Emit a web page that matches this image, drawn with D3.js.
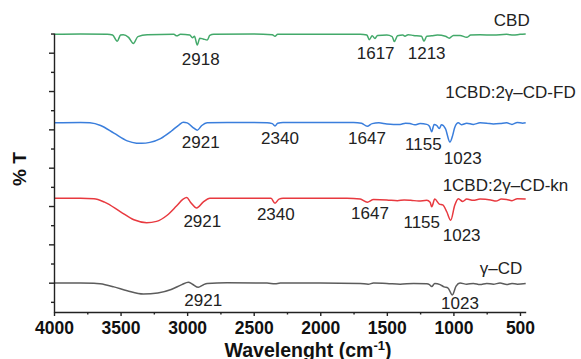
<!DOCTYPE html>
<html>
<head>
<meta charset="utf-8">
<script src="https://cdn.jsdelivr.net/npm/d3@7"></script>
<style>
  html, body { margin: 0; padding: 0; background: #fff; }
  svg { display: block; font-family: "Liberation Sans", Arial, sans-serif; }
</style>
</head>
<body>
<svg id="chart" width="581" height="359"></svg>
<script>
// ---- Data (wavenumber in cm-1, %T offset-stacked) ----
const cbdWave = [4000,3800,3600,3560,3525,3500,3480,3440,3404,3370,3300,3100,3078,3050,2980,2960,2945,2924,2905,2880,2849,2830,2800,2500,2360,2340,2320,2000,1700,1650,1632,1610,1589,1570,1500,1460,1444,1420,1380,1364,1340,1300,1240,1221,1200,1163,1120,1060,1031,1000,950,900,870,800,700,600,550,500,457];
const cbdT    = [74.8,74.9,74.8,74.6,73.0,74.6,74.7,74.0,72.4,74.2,74.7,74.8,74.4,74.8,74.6,73.9,74.3,72.0,73.8,73.6,73.3,74.5,74.8,74.9,74.7,74.3,74.8,74.8,74.8,74.6,73.4,74.4,73.7,74.5,74.6,74.2,72.9,74.4,74.6,74.3,74.7,74.5,74.3,73.0,74.3,74.4,74.6,74.3,73.8,74.5,74.5,74.0,74.6,74.7,74.6,74.8,74.6,74.8,74.9];

const fdWave = [4000,3800,3730,3650,3550,3450,3380,3341,3280,3200,3120,3060,3029,3000,2960,2924,2890,2850,2700,2400,2360,2340,2320,2280,2000,1750,1690,1647,1610,1560,1500,1450,1400,1360,1326,1290,1250,1200,1180,1163,1145,1125,1106,1090,1060,1026,1005,990,963,940,900,850,800,750,700,650,600,560,520,480,457];
const fdT    = [51.7,51.8,51.7,51.0,49.0,47.0,46.4,46.35,46.6,47.6,49.5,51.2,51.85,51.7,50.6,49.8,51.0,51.7,51.8,51.75,51.5,50.9,51.6,51.8,51.8,51.8,51.6,50.8,51.5,51.7,51.4,51.3,51.3,51.6,51.5,51.2,51.5,51.3,50.8,49.4,51.3,51.0,50.2,51.2,50.2,46.7,48.5,50.5,51.7,51.2,51.6,51.3,51.7,51.6,51.4,51.5,51.7,51.3,51.8,51.6,51.7];

const knWave = [4000,3800,3700,3620,3500,3400,3304,3230,3150,3080,3030,3003,2975,2928,2880,2830,2500,2370,2340,2310,2280,1800,1700,1647,1600,1500,1420,1370,1320,1260,1200,1175,1163,1140,1106,1080,1050,1020,990,963,930,900,850,800,720,680,640,600,560,520,457];
const knT    = [32.0,32.0,31.9,31.0,28.5,26.4,25.65,26.0,27.6,30.0,31.8,32.2,31.0,29.5,31.0,32.0,32.0,32.0,30.7,31.8,32.0,32.0,31.8,31.0,31.7,31.6,31.4,31.6,31.5,31.3,31.5,31.0,29.8,31.8,30.5,30.3,28.5,26.3,30.2,31.9,31.2,31.8,31.5,31.8,31.6,31.3,31.8,31.7,31.4,31.9,31.8];

const gcdWave = [4000,3800,3700,3654,3550,3450,3329,3220,3120,3040,2991,2960,2916,2880,2850,2700,2400,2340,2300,2000,1700,1640,1600,1500,1400,1300,1200,1180,1163,1140,1100,1070,1040,1008,980,950,900,850,800,750,700,650,600,560,520,457];
const gcdT    = [9.9,9.9,9.85,9.7,8.9,7.9,7.05,7.3,8.2,9.5,10.1,9.6,8.8,9.4,9.8,9.95,9.9,9.7,9.9,9.9,9.8,9.6,9.9,9.8,9.6,9.8,9.7,9.5,9.0,9.8,9.5,8.9,8.6,6.8,9.1,9.9,9.6,9.8,9.5,9.8,9.6,9.9,9.5,9.8,9.6,9.8];

const seriesNames = ["CBD", "1CBD:2γ–CD-FD", "1CBD:2γ–CD-kn", "γ–CD"];

const xTicksMajor = [4000,3500,3000,2500,2000,1500,1000,500];
const xTicksMinor = [3750,3250,2750,2250,1750,1250,750];
const yTicksMajor = [10,20,30,40,50,60,70];
const yTicksMinor = [5,15,25,35,45,55,65,75];

// peak annotations: [text, wavenumber, %T]
const peakLabels = [
  ["2918", 2898, 68.3], ["1617", 1584, 69.85], ["1213", 1201, 69.85],
  ["2921", 2898, 46.8], ["2340", 2303, 47.8], ["1647", 1649, 47.67], ["1155", 1226, 46.18], ["1023", 930, 42.45],
  ["2921", 2886, 26.09], ["2340", 2334, 27.92], ["1647", 1627, 28.26], ["1155", 1238, 25.91], ["1023", 938, 22.44],
  ["2921", 2879, 5.48], ["1023", 951, 4.62]
];
const nameLabelPos = [[562, 78.5], [571, 59.83], [609, 35.48], [643, 13.75]];

// ---- Layout / drawing ----
const svg = d3.select("#chart");
const colors = ["#43a96a", "#3a7edc", "#e8393f", "#5c5c5c"];

const x = d3.scaleLinear().domain([4000, 457]).range([54, 525.7]);
const y = d3.scaleLinear().domain([2.35, 75.14]).range([312, 33]);

const series = [
  {wave: cbdWave, t: cbdT},
  {wave: fdWave, t: fdT},
  {wave: knWave, t: knT},
  {wave: gcdWave, t: gcdT}
];

const line = d3.line()
  .x(d => x(d[0]))
  .y(d => y(d[1]))
  .curve(d3.curveMonotoneX);

series.forEach((s, i) => {
  const pts = s.wave.map((w, k) => [w, s.t[k]]);
  svg.append("path")
    .datum(pts)
    .attr("fill", "none")
    .attr("stroke", colors[i])
    .attr("stroke-width", 1.5)
    .attr("d", line);
});

// axes
const axisColor = "#222";
const gx = svg.append("g").attr("transform", "translate(0,312)");
gx.call(d3.axisBottom(x).tickValues(xTicksMajor).tickSize(4).tickSizeOuter(0).tickPadding(6).tickFormat(d3.format("d")));
gx.append("g").call(d3.axisBottom(x).tickValues(xTicksMinor).tickSize(2.5).tickSizeOuter(0).tickFormat(""))
  .select(".domain").remove();
gx.selectAll("path, line").attr("stroke", axisColor).attr("stroke-width", 1.4);
gx.selectAll("text")
  .attr("fill", "#111")
  .style("font-family", "'Liberation Sans', Arial, sans-serif")
  .style("font-size", "17.5px")
  .style("font-weight", "bold");

const gy = svg.append("g").attr("transform", "translate(54,0)");
gy.call(d3.axisLeft(y).tickValues(yTicksMajor).tickSize(5).tickSizeOuter(0).tickFormat(""));
gy.append("g").call(d3.axisLeft(y).tickValues(yTicksMinor).tickSize(3).tickSizeOuter(0).tickFormat(""))
  .select(".domain").remove();
gy.selectAll("path, line").attr("stroke", axisColor).attr("stroke-width", 1.4);

// axis titles
const xt = svg.append("text")
  .attr("x", 308).attr("y", 356.5)
  .attr("text-anchor", "middle")
  .attr("fill", "#111")
  .style("font-size", "19.5px")
  .style("font-weight", "bold");
xt.append("tspan").text("Wavelenght (cm");
xt.append("tspan").attr("dy", -7).style("font-size", "13px").text("-1");
xt.append("tspan").attr("dy", 7).text(")");

svg.append("text")
  .attr("transform", "translate(26,169) rotate(-90)")
  .attr("text-anchor", "middle")
  .attr("fill", "#111")
  .style("font-size", "19px")
  .style("font-weight", "bold")
  .text("% T");

// annotations
svg.selectAll("text.peak")
  .data(peakLabels)
  .enter().append("text")
  .attr("class", "peak")
  .attr("x", d => x(d[1]))
  .attr("y", d => y(d[2]) + 6)
  .attr("text-anchor", "middle")
  .attr("fill", "#222")
  .style("font-size", "17px")
  .text(d => d[0]);

svg.selectAll("text.sname")
  .data(seriesNames)
  .enter().append("text")
  .attr("class", "sname")
  .attr("x", (d, i) => x(nameLabelPos[i][0]))
  .attr("y", (d, i) => y(nameLabelPos[i][1]) + 6)
  .attr("text-anchor", "middle")
  .attr("fill", "#222")
  .style("font-size", "17px")
  .text(d => d);
</script>
</body>
</html>
